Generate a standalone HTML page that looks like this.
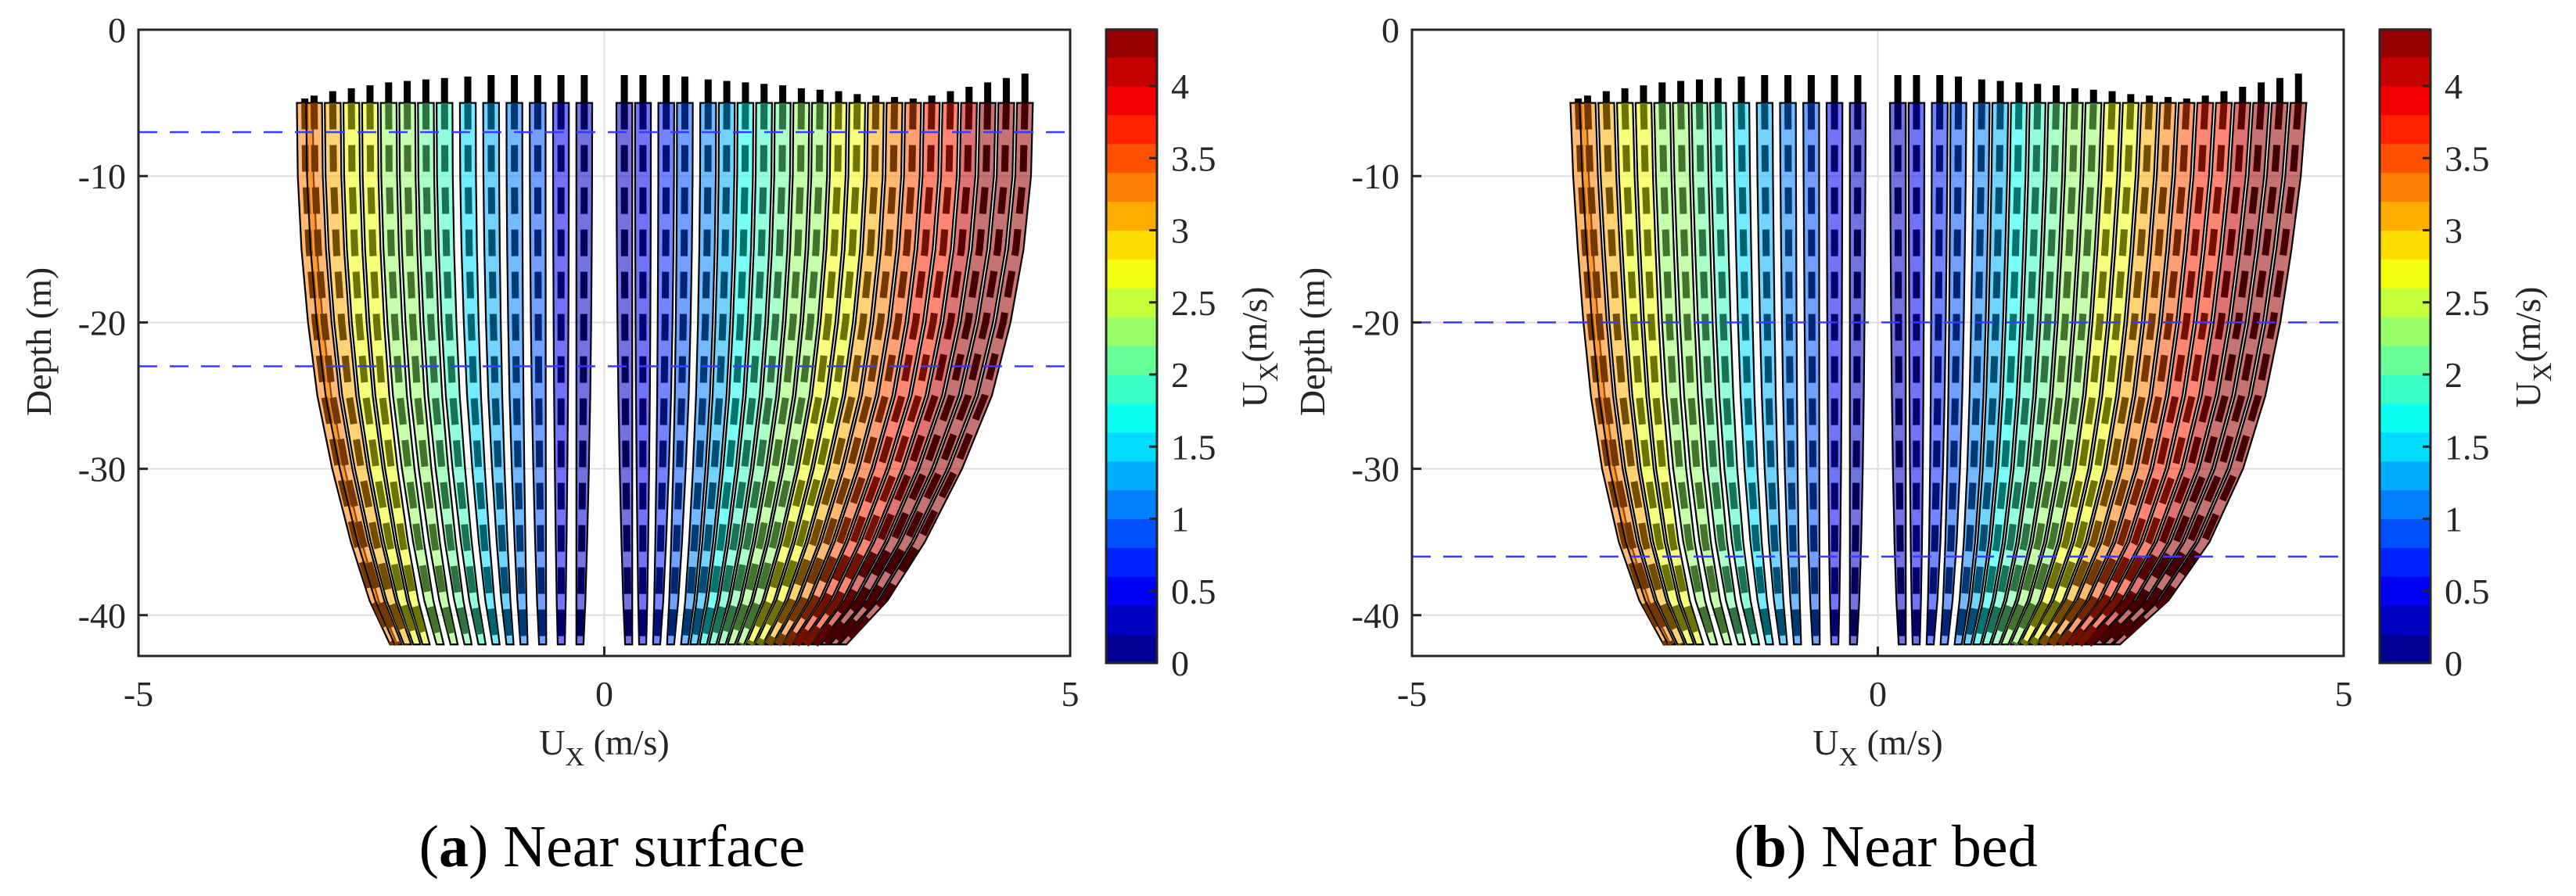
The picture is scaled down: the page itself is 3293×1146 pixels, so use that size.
<!DOCTYPE html>
<html><head><meta charset="utf-8">
<style>
html,body{margin:0;padding:0;background:#fff;}
svg{display:block;font-family:"Liberation Serif",serif;}
</style></head>
<body>
<svg id="fig" width="3293" height="1146" viewBox="0 0 3293 1146" xmlns="http://www.w3.org/2000/svg"></svg>
<script>
// ---- data ----
const depthLevels = [-5,-10,-15,-20,-25,-30,-35,-39,-42];
const shapeA = [1,0.99,0.95,0.88,0.78,0.62,0.42,0.22,0];
const shapeB = [1,0.97,0.92,0.86,0.78,0.66,0.48,0.26,0];
const leftSurface = [-3.3,-3.2,-3.0,-2.8,-2.6,-2.4,-2.2,-2.0,-1.8,-1.55,-1.3,-1.05,-0.8,-0.55,-0.3];
const leftBed = [-2.3,-2.25,-2.15,-2.05,-1.95,-1.8,-1.65,-1.5,-1.35,-1.2,-1.05,-0.9,-0.7,-0.5,-0.3];
const rightSurface = [0.3,0.5,0.75,0.95,1.2,1.4,1.6,1.8,2.0,2.2,2.4,2.6,2.8,3.0,3.2,3.4,3.6,3.8,4.0,4.2,4.4,4.6];
const rightBed = [0.3,0.45,0.6,0.75,0.9,1.0,1.1,1.2,1.3,1.4,1.5,1.6,1.7,1.8,1.9,2.0,2.1,2.2,2.3,2.4,2.5,2.6];
const leftBarLen = [0.3,0.5,0.8,1.0,1.2,1.4,1.5,1.6,1.7,1.8,1.9,1.9,1.9,1.9,1.9];
const rightBarLen = [1.9,1.9,1.9,1.8,1.6,1.5,1.4,1.3,1.2,1.0,0.9,0.8,0.6,0.5,0.4,0.3,0.5,0.8,1.1,1.4,1.7,2.0];
const dashedA = [-7,-23];
const dashedB = [-20,-36];
const yTicks = [0,-10,-20,-30,-40];
const xTicks = [-5,0,5];
const cbTicks = [0,0.5,1,1.5,2,2.5,3,3.5,4];
const cbTickLabels = ["0","0.5","1","1.5","2","2.5","3","3.5","4"];

const svg = document.getElementById('fig');
const NS = 'http://www.w3.org/2000/svg';
function mk(tag, attrs, parent){ const e=document.createElementNS(NS,tag); for(const k in attrs) e.setAttribute(k,attrs[k]); (parent||svg).appendChild(e); return e; }

function jet(v){
  const r=Math.min(Math.max(Math.min(4*v-1.5,-4*v+4.5),0),1);
  const g=Math.min(Math.max(Math.min(4*v-0.5,-4*v+3.5),0),1);
  const b=Math.min(Math.max(Math.min(4*v+0.5,-4*v+2.5),0),1);
  return [r,g,b];
}
function cmap(u, k){ const lv=Math.min(21,Math.floor(u/0.2)); const c=jet((lv+0.5)/22); return 'rgb('+c.map(x=>Math.round(x*255*(k||1))).join(',')+')'; }

function panel(id, X0, shape, dashed, caption, capBold){
  const xL=X0, xR=X0+1191, yT=38, yB=839;
  const sx=u=> xL + (u+5)/10*(xR-xL);
  const sy=d=> yT + (-d)*18.72;
  const g=mk('g',{});
  
  
  yTicks.forEach(t=>{ const l=mk('line',{x1:xL,x2:xR,y1:sy(t),y2:sy(t),stroke:'#dedede','stroke-width':2},g);
      });
  const vg=mk('line',{x1:sx(0),x2:sx(0),y1:yT,y2:yB,stroke:'#dedede','stroke-width':2},g);
   
  function drawGroup(surf, bed, bars, grp){
    surf.forEach((us,i)=>{
      const ub=bed[i]; const sign=us<0?-1:1;
      const pts=depthLevels.map((d,j)=>[ub+(us-ub)*shape[j], d]);
      const w=0.17;
      const poly=[];
      pts.forEach(p=>poly.push(sx(p[0])+','+sy(p[1])));
      for(let j=pts.length-1;j>=0;j--){ poly.push(sx(pts[j][0]-sign*w*(0.45+0.55*shape[j]))+','+sy(pts[j][1])); }
      const col=cmap(Math.abs(us));
      const band=mk('polygon',{points:poly.join(' '),fill:col,'fill-opacity':0.55,stroke:'#000','stroke-width':2.2},g);
      
      
      const mid=pts.map((p,j)=>sx(p[0]-sign*w*0.5*(0.45+0.55*shape[j]))+','+sy(p[1])).join(' ');
      const dl=mk('polyline',{points:mid,fill:'none',stroke:cmap(Math.abs(us),0.45),'stroke-width':9,'stroke-dasharray':'34,20'},g);
      
      
      const bl=bars[i]; const top=-5+Math.min(bl,2); const bot=Math.max(top-bl,-5.2);
      const bx=sx(us - sign*w*0.5);
      const bar=mk('line',{x1:bx,x2:bx,y1:sy(top),y2:sy(-4.6>bot? bot : -4.6),stroke:'#000','stroke-width':9},g);
      
      
    });
  }
  drawGroup(leftSurface,leftBed,leftBarLen,'left');
  drawGroup(rightSurface,rightBed,rightBarLen,'right');
  dashed.forEach(d=>{ const l=mk('line',{x1:xL,x2:xR,y1:sy(d),y2:sy(d),stroke:'#3a3aff','stroke-width':2.5,'stroke-dasharray':'24,16'},g);
      });
  const box=mk('rect',{x:xL,y:yT,width:xR-xL,height:yB-yT,fill:'none',stroke:'#262626','stroke-width':3},g);
   
  yTicks.forEach(t=>{ mk('line',{x1:xL,x2:xL+12,y1:sy(t),y2:sy(t),stroke:'#262626','stroke-width':3},g);
    const tx=mk('text',{x:xL-16,y:sy(t)+16,'text-anchor':'end','font-size':46,fill:'#262626'},g); tx.textContent=t;
      });
  xTicks.forEach(t=>{ mk('line',{x1:sx(t),x2:sx(t),y1:yB,y2:yB-12,stroke:'#262626','stroke-width':3},g);
    const tx=mk('text',{x:sx(t),y:903,'text-anchor':'middle','font-size':46,fill:'#262626'},g); tx.textContent=t;
      });
  const xl=mk('text',{x:(xL+xR)/2,y:965,'text-anchor':'middle','font-size':46,fill:'#262626'},g);
  xl.innerHTML='U<tspan font-size="34" dy="14">X</tspan><tspan dy="-14"> (m/s)</tspan>';
   
  const yl=mk('text',{x:0,y:0,'text-anchor':'middle','font-size':46,fill:'#262626',transform:'translate('+(xL-112)+',437) rotate(-90)'},g);
  yl.textContent='Depth (m)';
   
  const cx=xR+46, cw=65, c0=848, cs=184.5;
  for(let k=0;k<22;k++){
    const r=mk('rect',{x:cx,y:c0-(k+1)*0.2*cs,width:cw,height:0.2*cs+0.5,fill:cmap(k*0.2+0.1)},g);
     
  }
  const cb=mk('rect',{x:cx,y:38,width:cw,height:c0-38,fill:'none',stroke:'#262626','stroke-width':3},g);
   
  cbTicks.forEach((t,i)=>{ mk('line',{x1:cx+cw-10,x2:cx+cw,y1:c0-t*cs,y2:c0-t*cs,stroke:'#262626','stroke-width':3},g);
    const tx=mk('text',{x:cx+cw+18,y:c0-t*cs+16,'font-size':46,fill:'#262626'},g); tx.textContent=cbTickLabels[i];
      });
  const cl=mk('text',{x:0,y:0,'text-anchor':'middle','font-size':46,fill:'#262626',transform:'translate('+(cx+205)+',444) rotate(-90)'},g);
  cl.innerHTML='U<tspan font-size="34" dy="14">X</tspan><tspan dy="-14">(m/s)</tspan>';
   
  const cap=mk('text',{x:(xL+xR)/2+10,y:1108,'text-anchor':'middle','font-size':76,fill:'#000'},g);
  cap.innerHTML='(<tspan font-weight="bold">'+capBold+'</tspan>) '+caption;
   
}
panel('a',177,shapeA,dashedA,'Near surface','a');
panel('b',1805,shapeB,dashedB,'Near bed','b');
</script>
</body></html>
